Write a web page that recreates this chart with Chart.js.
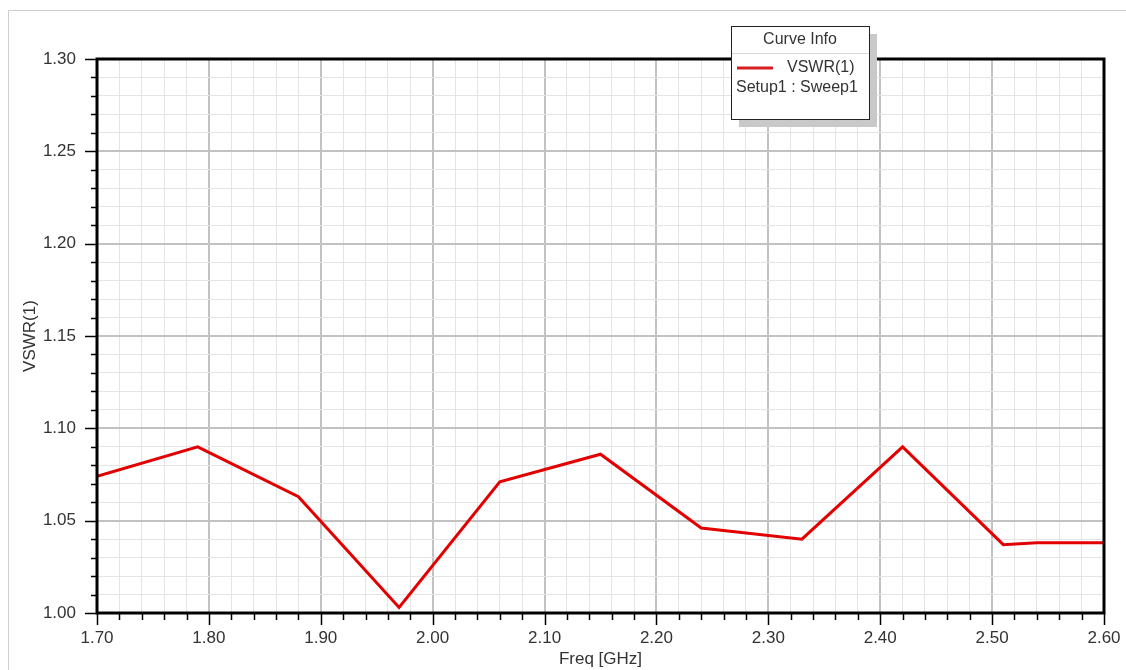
<!DOCTYPE html>
<html>
<head>
<meta charset="utf-8">
<script src="https://cdn.jsdelivr.net/npm/chart.js@4.4.0/dist/chart.umd.min.js"></script>
<style>
  html, body { margin: 0; padding: 0; background: #fff; }
  #wrap { width: 1126px; height: 670px; position: relative; }
</style>
</head>
<body>
<div id="wrap"><canvas id="vswr-chart" width="1126" height="670"></canvas></div>
<script>
// sweep points
const freqGHz = [1.70, 1.79, 1.88, 1.97, 2.06, 2.15, 2.24, 2.33, 2.42, 2.51, 2.54, 2.60];
const vswr = [1.074, 1.090, 1.063, 1.003, 1.071, 1.086, 1.046, 1.040, 1.090, 1.037, 1.038, 1.038];

const xRange = [1.70, 2.60];
const yRange = [1.00, 1.30];
const xMajor = 0.1, xMinor = 0.02;
const yMajor = 0.05, yMinor = 0.01;

const seriesName = "VSWR(1)";
const seriesSetup = "Setup1 : Sweep1";
const legendTitle = "Curve Info";
const xTitle = "Freq [GHz]";
const yTitle = "VSWR(1)";

const FONT = "'Liberation Sans', Arial, sans-serif";
const RED = "#e30000";

function isMajor(v, step) {
  const r = v / step;
  return Math.abs(r - Math.round(r)) < 1e-6;
}

// outer frame, plot border, tick marks and the curve-info box
const decorPlugin = {
  id: "decor",
  beforeDraw(chart) {
    const ctx = chart.ctx;
    ctx.save();
    ctx.strokeStyle = "#cfcfcf";
    ctx.lineWidth = 1;
    ctx.strokeRect(8.5, 10.5, 1200, 800);
    ctx.restore();
  },
  afterDraw(chart) {
    const ctx = chart.ctx;
    const a = chart.chartArea;
    const xs = chart.scales.x, ys = chart.scales.y;
    ctx.save();
    ctx.strokeStyle = "#000";
    ctx.lineWidth = 1.5;
    // ticks
    xs.ticks.forEach(t => {
      const px = Math.round(xs.getPixelForValue(t.value)) + 0.5;
      const len = isMajor(t.value, xMajor) ? 12 : 7;
      ctx.beginPath(); ctx.moveTo(px, a.bottom); ctx.lineTo(px, a.bottom + len); ctx.stroke();
    });
    ys.ticks.forEach(t => {
      const py = Math.round(ys.getPixelForValue(t.value)) + 0.5;
      const len = isMajor(t.value, yMajor) ? 12 : 6;
      ctx.beginPath(); ctx.moveTo(a.left, py); ctx.lineTo(a.left - len, py); ctx.stroke();
    });
    // frame
    ctx.lineWidth = 3;
    ctx.strokeRect(a.left, a.top, a.right - a.left, a.bottom - a.top);

    // curve info box
    const bx = 731, by = 26, bw = 138, bh = 93;
    ctx.fillStyle = "#c9c9c9";
    ctx.fillRect(bx + 8, by + 8, bw, bh);
    ctx.fillStyle = "#fff";
    ctx.fillRect(bx, by, bw, bh);
    ctx.lineWidth = 1;
    ctx.strokeStyle = "#222";
    ctx.strokeRect(bx + 0.5, by + 0.5, bw, bh);
    ctx.strokeStyle = "#d6d6d6";
    ctx.beginPath(); ctx.moveTo(bx + 1, by + 27.5); ctx.lineTo(bx + bw, by + 27.5); ctx.stroke();
    ctx.fillStyle = "#333";
    ctx.font = "16px " + FONT;
    ctx.textAlign = "center";
    ctx.textBaseline = "middle";
    ctx.fillText(legendTitle, bx + bw / 2, by + 14);
    ctx.strokeStyle = "#d42020";
    ctx.lineWidth = 3;
    ctx.beginPath(); ctx.moveTo(bx + 6, by + 42); ctx.lineTo(bx + 42, by + 42); ctx.stroke();
    ctx.textAlign = "left";
    ctx.fillText(seriesName, bx + 56, by + 42);
    ctx.fillText(seriesSetup, bx + 5, by + 62);
    ctx.restore();
  }
};

new Chart(document.getElementById("vswr-chart"), {
  type: "line",
  data: {
    datasets: [{
      label: seriesName,
      data: freqGHz.map((f, i) => ({ x: f, y: vswr[i] })),
      borderColor: RED,
      borderWidth: 3,
      pointRadius: 0,
      tension: 0,
      fill: false
    }]
  },
  options: {
    responsive: false,
    animation: false,
    events: [],
    layout: { padding: { left: 0, top: 59, right: 22, bottom: 0 } },
    plugins: { legend: { display: false }, tooltip: { enabled: false } },
    scales: {
      x: {
        type: "linear",
        min: xRange[0], max: xRange[1],
        afterFit(s) { s.height = 57; s.paddingLeft = 0; s.paddingRight = 0; },
        border: { display: false },
        grid: {
          drawTicks: false,
          color: c => isMajor(c.tick.value, xMajor) ? "#c2c2c2" : "#e4e4e4",
          lineWidth: c => isMajor(c.tick.value, xMajor) ? 2 : 1
        },
        ticks: {
          stepSize: xMinor,
          autoSkip: false,
          maxRotation: 0,
          padding: 15,
          color: "#333",
          font: { family: FONT, size: 17 },
          callback: v => isMajor(v, xMajor) ? v.toFixed(2) : ""
        },
        title: {
          display: true, text: xTitle, color: "#333",
          font: { family: FONT, size: 17 },
          padding: { top: 0, bottom: 0 }
        }
      },
      y: {
        min: yRange[0], max: yRange[1],
        afterFit(s) { s.width = 97; s.paddingTop = 0; s.paddingBottom = 0; },
        border: { display: false },
        grid: {
          drawTicks: false,
          color: c => isMajor(c.tick.value, yMajor) ? "#c2c2c2" : "#e4e4e4",
          lineWidth: c => isMajor(c.tick.value, yMajor) ? 2 : 1
        },
        ticks: {
          stepSize: yMinor,
          autoSkip: false,
          padding: 21,
          color: "#333",
          font: { family: FONT, size: 17 },
          callback: v => isMajor(v, yMajor) ? v.toFixed(2) : ""
        },
        title: {
          display: true, text: yTitle, color: "#333",
          font: { family: FONT, size: 17 },
          padding: { top: 20, bottom: 0 }
        }
      }
    }
  },
  plugins: [decorPlugin]
});
</script>
</body>
</html>
